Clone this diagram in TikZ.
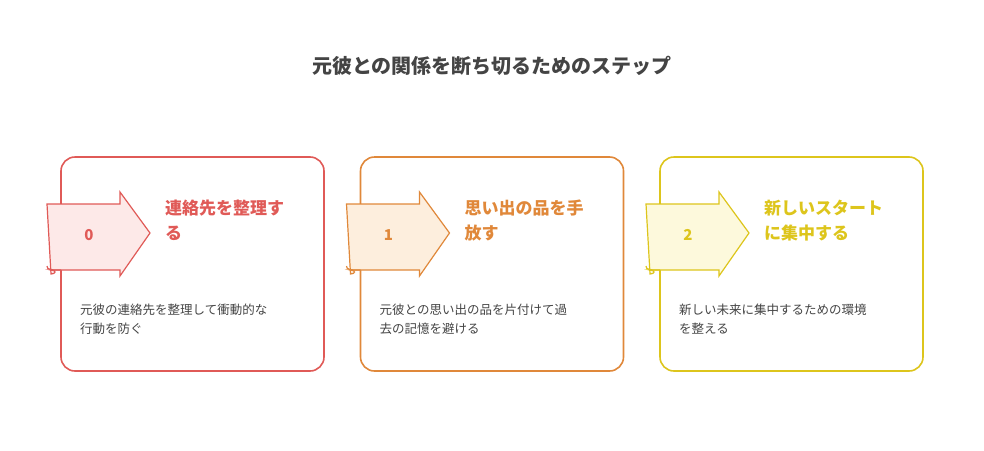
\documentclass[tikz,border=0pt]{standalone}
\usepackage{fontspec}
\setmainfont{Noto Sans CJK JP}
\definecolor{cRed}{HTML}{E05A57}
\definecolor{cRedF}{HTML}{FDE9E8}
\definecolor{cOra}{HTML}{E0883A}
\definecolor{cOraF}{HTML}{FDEEDD}
\definecolor{cYel}{HTML}{DDC51C}
\definecolor{cYelF}{HTML}{FDF9DC}
\definecolor{txtGray}{HTML}{444444}
\begin{document}
\begin{tikzpicture}[x=1pt,y=-1pt]
\tikzstyle{cardStyle}=[line width = 1.6pt, rounded corners = 14pt]
\tikzstyle{arrowStyle}=[line width = 1.2pt, line join = miter]
\tikzstyle{numStyle}=[font = \fontsize{15}{18}\selectfont\bfseries]
\tikzstyle{headStyle}=[anchor = north west, align = left, inner sep = 0pt, font = \fontsize{17}{25}\selectfont\bfseries]
\tikzstyle{bodyStyle}=[anchor = north west, align = left, inner sep = 0pt, text = txtGray, font = \fontsize{12.5}{19}\selectfont]
\useasboundingbox (0,0) rectangle (984,450);
\node[font = \fontsize{20}{24}\selectfont\bfseries, text = txtGray] (title) at (492,66) {元彼との関係を断ち切るためのステップ};
\foreach \i/\c/\f/\head/\body in {%
  0/cRed/cRedF/{連絡先を整理す\\る}/{元彼の連絡先を整理して衝動的な\\行動を防ぐ},
  1/cOra/cOraF/{思い出の品を手\\放す}/{元彼との思い出の品を片付けて過\\去の記憶を避ける},
  2/cYel/cYelF/{新しいスタート\\に集中する}/{新しい未来に集中するための環境\\を整える}}{
  \begin{scope}[xshift = \i*299.5]
  \draw[cardStyle, draw = \c] (61,157) rectangle (324,371);
  \draw[arrowStyle, draw = \c, fill = \f] (47,204) -- (120,204) -- (120,192) -- (150,233)
    -- (120,276) -- (120,270) -- (51,270) arc (90:270:-4 and -2) -- cycle;
  \draw[arrowStyle, draw = \c] (47,266) .. controls (47,270) and (51,270) .. (61,270);
  \node[numStyle, text = \c] (num\i) at (89,235) {\i};
  \node[headStyle, text = \c] (head\i) at (165,200) {\head};
  \node[bodyStyle] (body\i) at (80,304) {\body};
  \end{scope}
}
\end{tikzpicture}
\end{document}
